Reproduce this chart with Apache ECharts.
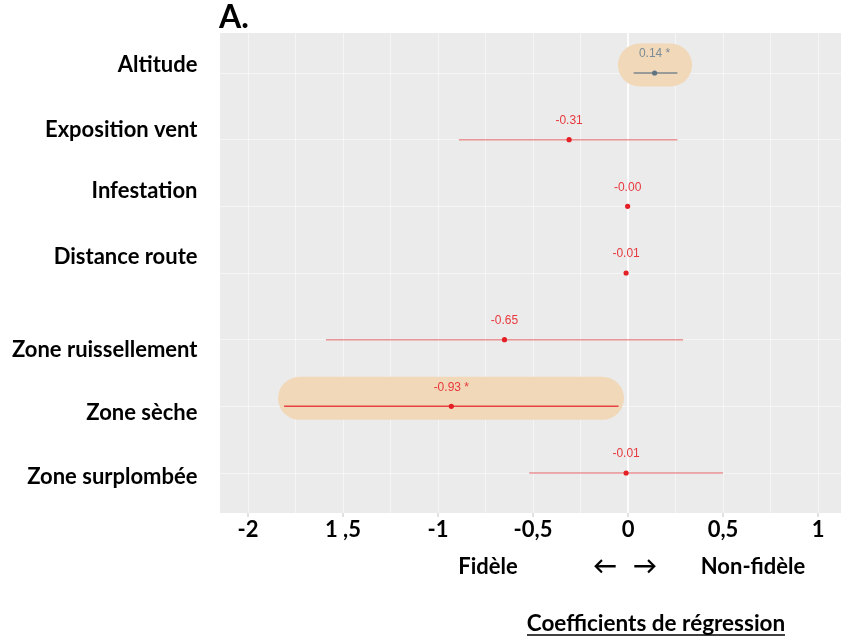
<!DOCTYPE html>
<html>
<head>
<meta charset="utf-8">
<script src="https://cdn.jsdelivr.net/npm/echarts@6/dist/echarts.min.js"></script>
<style>
  html, body { margin: 0; padding: 0; background: #fff; }
  #main { width: 841px; height: 640px; }
</style>
</head>
<body>
<div id="main"></div>
<script>
// variables, top to bottom
var categories = ['Altitude', 'Exposition vent', 'Infestation', 'Distance route',
  'Zone ruissellement', 'Zone sèche', 'Zone surplombée'];
var estimates = [0.14, -0.31, -0.002, -0.01, -0.65, -0.93, -0.01];
var ciLow = [0.03, -0.89, -0.006, -0.014, -1.59, -1.81, -0.52];
var ciHigh = [0.26, 0.26, 0.002, -0.006, 0.29, -0.05, 0.50];
var estLabels = ['0.14 *', '-0.31', '-0.00', '-0.01', '-0.65', '-0.93 *', '-0.01'];
var significant = [true, false, false, false, false, true, false];

// highlighted (significant) rows
var highlightRows = [0, 5];
var highlightFrom = [-0.053, -1.842];
var highlightTo = [0.337, -0.021];

// x axis ticks (labels kept as printed)
var xTickValues = [-2, -1.5, -1, -0.5, 0, 0.5, 1];
var xTickLabels = ['-2', '1 ,5', '-1', '-0,5', '0', '0,5', '1'];

var FONT = 'Lato, "DejaVu Sans", sans-serif';
var RED = '#e41f26';
var GREY = '#5f7383';

// vertical nudges of the left labels (px, negative = up)
var labelShift = [-8, -10, -15, -16, 10, 7, 4];
var rich = {};
for (var i = 0; i < categories.length; i++) {
  var s = labelShift[i];
  rich['s' + i] = {
    fontFamily: FONT, fontWeight: 'bold', fontSize: 22, color: '#000',
    padding: s < 0 ? [0, 0, -2 * s, 0] : [2 * s, 0, 0, 0]
  };
}

var barData = [];
for (var i = 0; i < categories.length; i++) {
  barData.push([ciLow[i], ciHigh[i], estimates[i], i + 1]);
}
var pillData = [];
for (var i = 0; i < highlightRows.length; i++) {
  pillData.push([highlightFrom[i], highlightTo[i], highlightRows[i] + 1]);
}
var tickData = xTickValues.map(function (v) { return [v, 7.6]; });

var chart = echarts.init(document.getElementById('main'));

// grid lines: white with transparency -> faint on grey, invisible on white
var gridLine = { show: true, lineStyle: { color: '#ffffff', opacity: 0.5, width: 1 } };

var option = {
  animation: false,
  grid: { left: 200.5, right: 0, top: 6.33, bottom: 127 },
  xAxis: {
    type: 'value',
    min: -2.25,
    max: 1.121,
    interval: 0.25,
    axisLine: { show: false },
    axisTick: { show: false },
    axisLabel: {
      customValues: xTickValues,
      margin: 6,
      fontFamily: FONT, fontWeight: 'bold', fontSize: 22, color: '#000',
      formatter: function (v) {
        for (var k = 0; k < xTickValues.length; k++) {
          if (Math.abs(xTickValues[k] - v) < 1e-6) return xTickLabels[k];
        }
        return '';
      }
    },
    splitLine: gridLine
  },
  yAxis: {
    type: 'value',
    inverse: true,
    min: 0,
    max: 7.6,
    interval: 1,
    axisLine: { show: false },
    axisTick: { show: false },
    axisLabel: {
      margin: 3,
      rich: rich,
      formatter: function (v) {
        if (Math.abs(v - Math.round(v)) > 1e-6) return '';
        var idx = Math.round(v) - 1;
        if (idx < 0 || idx >= categories.length) return '';
        return '{s' + idx + '|' + categories[idx] + '}';
      }
    },
    splitLine: gridLine
  },
  series: [
    {
      // zero reference line
      type: 'custom',
      silent: true,
      data: [[0, 4]],
      encode: { x: 0, y: 1 },
      renderItem: function (params, api) {
        var cs = params.coordSys;
        var p = api.coord([api.value(0), api.value(1)]);
        return {
          type: 'line',
          shape: { x1: p[0], y1: cs.y, x2: p[0], y2: cs.y + cs.height },
          style: { stroke: '#ffffff', lineWidth: 1.6 }
        };
      }
    },
    {
      // small tick marks under the panel
      type: 'custom',
      silent: true,
      clip: false,
      data: tickData,
      encode: { x: 0, y: 1 },
      renderItem: function (params, api) {
        var p = api.coord([api.value(0), api.value(1)]);
        return {
          type: 'line',
          shape: { x1: p[0], y1: p[1], x2: p[0], y2: p[1] + 4 },
          style: { stroke: '#c4c4c4', lineWidth: 1 }
        };
      }
    },
    {
      // highlight pills
      type: 'custom',
      silent: true,
      data: pillData,
      encode: { x: [0, 1], y: 2 },
      renderItem: function (params, api) {
        var a = api.coord([api.value(0), api.value(2)]);
        var b = api.coord([api.value(1), api.value(2)]);
        var h = 43;
        return {
          type: 'rect',
          shape: { x: a[0], y: a[1] - 8 - h / 2, width: b[0] - a[0], height: h, r: h / 2 },
          style: { fill: '#f1d8b8' }
        };
      }
    },
    {
      // confidence intervals, estimates and labels
      type: 'custom',
      silent: true,
      data: barData,
      encode: { x: [0, 1, 2], y: 3 },
      renderItem: function (params, api) {
        var row = params.dataIndex;
        var y = api.value(3);
        var lo = api.coord([api.value(0), y]);
        var hi = api.coord([api.value(1), y]);
        var pt = api.coord([api.value(2), y]);
        var col = estimates[row] > 0 ? GREY : RED;
        var txtCol = estimates[row] > 0 ? '#7b8b97' : '#e8383d';
        return {
          type: 'group',
          children: [
            {
              type: 'line',
              shape: { x1: lo[0], y1: lo[1], x2: hi[0], y2: hi[1] },
              style: { stroke: col, lineWidth: 1.5, opacity: significant[row] ? 0.8 : 0.45 }
            },
            {
              type: 'circle',
              shape: { cx: pt[0], cy: pt[1], r: 2.6 },
              style: { fill: col }
            },
            {
              type: 'text',
              x: pt[0],
              y: pt[1] - 19,
              style: {
                text: estLabels[row],
                fill: txtCol,
                font: '12px "Liberation Sans", Arial, sans-serif',
                align: 'center',
                verticalAlign: 'middle'
              }
            }
          ]
        };
      }
    }
  ]
};

chart.setOption(option);

// panel background and annotations
var p1 = chart.convertToPixel({ gridIndex: 0 }, [-2.147, 0.4]);
var p2 = chart.convertToPixel({ gridIndex: 0 }, [1.121, 7.6]);
var boldText = function (txt, x, y, size) {
  return {
    type: 'text', x: x, y: y, silent: true,
    style: {
      text: txt, fill: '#000', align: 'center', verticalAlign: 'middle',
      font: 'bold ' + size + 'px ' + FONT
    }
  };
};
chart.setOption({
  graphic: [
    {
      type: 'rect', z: -10, silent: true,
      shape: { x: p1[0], y: p1[1], width: p2[0] - p1[0], height: p2[1] - p1[1] },
      style: { fill: '#ebebeb' }
    },
    {
      type: 'text', x: 219, y: 18, silent: true,
      style: { text: 'A.', fill: '#000', font: 'bold 32px ' + FONT, align: 'left', verticalAlign: 'middle' }
    },
    boldText('Fidèle', 488, 567, 22),
    boldText('←', 605, 566, 24),
    boldText('→', 645, 566, 24),
    boldText('Non-fidèle', 753, 567, 22),
    boldText('Coefficients de régression', 656, 624, 22.5),
    {
      type: 'line', silent: true,
      shape: { x1: 527, y1: 635, x2: 785, y2: 635 },
      style: { stroke: '#000', lineWidth: 1.5 }
    }
  ]
});
</script>
</body>
</html>
